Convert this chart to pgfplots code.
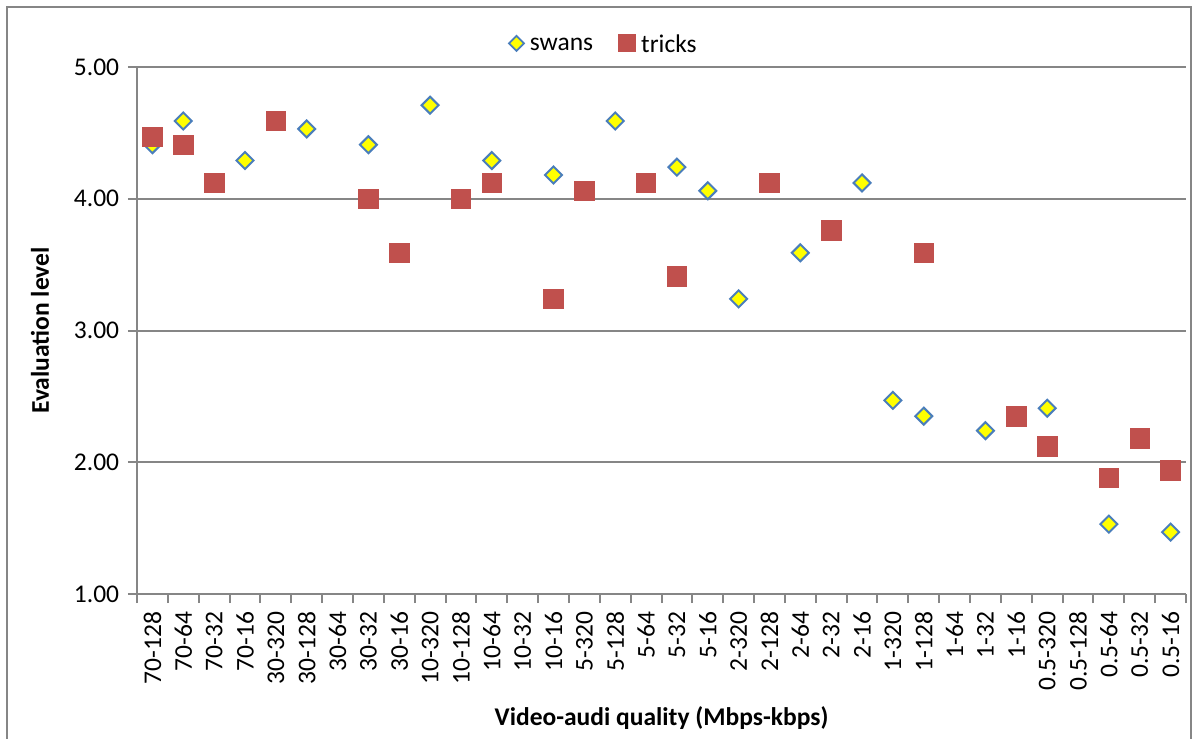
\documentclass[border=0pt]{standalone}
\usepackage{fontspec}
\setmainfont{Carlito}
\usepackage{pgfplots}
\pgfplotsset{compat=1.18}

\definecolor{swanfill}{RGB}{255,255,0}
\definecolor{swanedge}{RGB}{74,126,187}
\definecolor{trickred}{RGB}{192,80,77}
\definecolor{gridgray}{RGB}{134,134,134}

% 1 px of the reference = 0.4pt
\begin{document}
\begin{tikzpicture}
\useasboundingbox (-54.8pt,-57.6pt) rectangle (423.6pt,237.6pt);
\begin{axis}[
	scale only axis,
	width=419.6pt,
	height=210.8pt,
	font=\fontsize{10.2}{12}\selectfont,
	xmin=-0.5, xmax=33.5,
	ymin=1, ymax=5,
	ytick={1,2,3,4,5},
	yticklabel style={/pgf/number format/.cd, fixed, fixed zerofill, precision=2, assume math mode=true},
	xtick={-0.5,0.5,...,33.5},
	x tick label as interval,
	xticklabels={70-128,70-64,70-32,70-16,30-320,30-128,30-64,30-32,30-16,10-320,10-128,10-64,10-32,10-16,5-320,5-128,5-64,5-32,5-16,2-320,2-128,2-64,2-32,2-16,1-320,1-128,1-64,1-32,1-16,0.5-320,0.5-128,0.5-64,0.5-32,0.5-16},
	xticklabel style={rotate=90, anchor=east},
	axis x line=bottom,
	axis y line=left,
	axis line style={-, draw=gridgray, line width=0.8pt},
	tick align=outside,
	major tick length=3.6pt,
	tick style={draw=gridgray, line width=0.8pt},
	ymajorgrids=true,
	grid style={draw=gridgray, line width=0.8pt},
	ylabel={\textbf{Evaluation level}},
	xlabel={\textbf{Video-audi quality (Mbps-kbps)}},
	every axis y label/.style={at={(rel axis cs:-0.0925,0.5)}, rotate=90, anchor=center},
	every axis x label/.style={at={(rel axis cs:0.5,-0.235)}, anchor=center},
	legend style={at={(rel axis cs:0.446,1.04)}, anchor=center, draw=none, fill=none,
		legend columns=2, /tikz/every even column/.append style={column sep=8pt}},
	legend cell align=left,
	clip=false,
]
\addplot[only marks, mark=square*, mark size=2.4pt,
	mark options={rotate=45, fill=swanfill, draw=swanedge, line width=0.8pt},
	legend image code/.code={
		\draw[draw=swanedge, fill=swanfill, line width=0.7pt]
		(0.25cm,1pt) +(0,3pt) -- +(3pt,0) -- +(0,-3pt) -- +(-3pt,0) -- cycle;}]
coordinates{
	(0, 4.41)
	(1, 4.59)
	(3, 4.29)
	(5, 4.53)
	(7, 4.41)
	(9, 4.71)
	(11, 4.29)
	(13, 4.18)
	(15, 4.59)
	(17, 4.24)
	(18, 4.06)
	(19, 3.24)
	(21, 3.59)
	(23, 4.12)
	(24, 2.47)
	(25, 2.35)
	(27, 2.24)
	(29, 2.41)
	(31, 1.53)
	(33, 1.47)
};
\addlegendentry{swans}

\addplot[only marks, mark=square*, mark size=3.9pt,
	mark options={fill=trickred, draw=trickred, line width=0.3pt},
	legend image code/.code={
		\fill[trickred] (0.25cm,1pt) +(-3.4pt,-3.4pt) rectangle +(3.4pt,3.4pt);}]
coordinates{
	(0, 4.47)
	(1, 4.41)
	(2, 4.12)
	(4, 4.59)
	(7, 4.00)
	(8, 3.59)
	(10, 4.00)
	(11, 4.12)
	(13, 3.24)
	(14, 4.06)
	(16, 4.12)
	(17, 3.41)
	(20, 4.12)
	(22, 3.76)
	(25, 3.59)
	(28, 2.35)
	(29, 2.12)
	(31, 1.88)
	(32, 2.18)
	(33, 1.94)
};
\addlegendentry{tricks}

\end{axis}
\draw[gridgray, line width=0.8pt] (-52pt,-62pt) rectangle (421.6pt,234.8pt);
\end{tikzpicture}
\end{document}
